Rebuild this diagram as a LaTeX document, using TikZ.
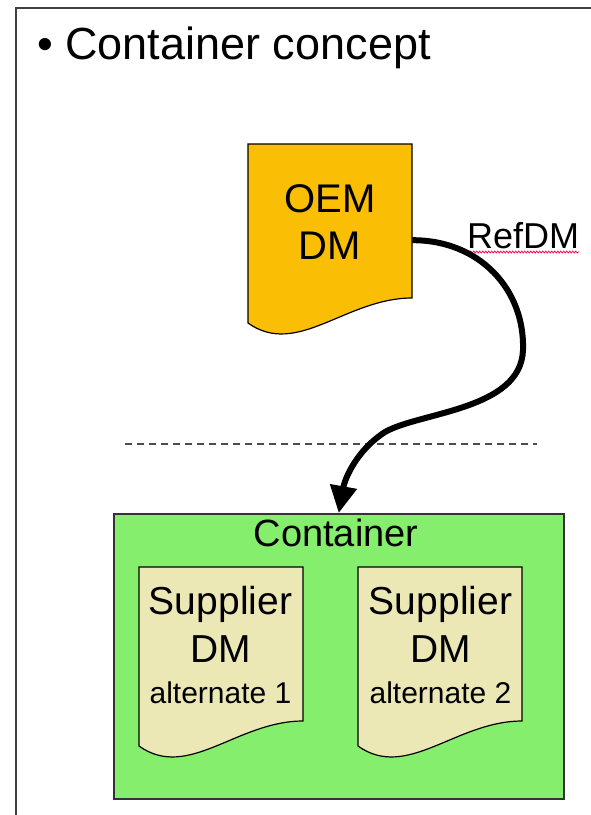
\documentclass[tikz,border=0pt]{standalone}
\usepackage{fontspec}
\setmainfont{Liberation Sans}
\usetikzlibrary{arrows.meta,decorations.pathmorphing}

\definecolor{oemorange}{RGB}{250,190,5}
\definecolor{boxgreen}{RGB}{133,238,108}
\definecolor{supbeige}{RGB}{236,232,182}

% page with a wavy lower edge: name, x, y, colour
\newcommand{\dmpage}[4]{%
  \node[inner sep=0, minimum width=164, minimum height=154, anchor=north west] (#1) at (#2,#3) {};
  \draw[line width=1.2, fill=#4] (#2,#3) -- (#2+164,#3) -- (#2+164,#3+154)
    .. controls (#2+98,#3+154) and (#2+49,#3+214) .. (#2,#3+179) -- cycle;
}

\begin{document}
\begin{tikzpicture}[x=1pt,y=-1pt]
	\useasboundingbox (0,0) rectangle (591,815);
	\draw[line width=2, black!75] (16,815) -- (16,8) -- (591,8);
	\node[anchor=base west, inner sep=0, font=\fontsize{45}{54}\selectfont] (title) at (37,59) {\textbullet\ Container concept};

	\dmpage{oem}{248}{144}{oemorange}
	\node[align=center, inner sep=0, font=\fontsize{40}{47}\selectfont] (oemtext) at (330,222) {OEM\\DM};
	\node[anchor=base west, inner sep=0, font=\fontsize{36}{43}\selectfont] (refdm) at (467,248) {RefDM};
	\draw[red!70!magenta, line width=0.7, decorate, decoration={zigzag, segment length=3pt, amplitude=1pt}] ([yshift=-4pt]refdm.base west) -- ([yshift=-4pt]refdm.base east);

	\draw[black!70, line width=1.5, dash pattern=on 7pt off 5pt] (125,444) -- (537,444);

	\node[anchor=north west, draw=black!80, line width=1.5, fill=boxgreen, minimum width=450, minimum height=285] (box) at (113,513) {};
	\node[anchor=base, inner sep=0, font=\fontsize{38}{45}\selectfont] (boxlabel) at (336,546) {Container};

	\dmpage{sup1}{139}{567}{supbeige}
	\dmpage{sup2}{358}{567}{supbeige}
	\node[align=center, inner sep=0, font=\fontsize{39}{48}\selectfont] (sup1text) at (220.5,624.5) {Supplier\\DM};
	\node[align=center, inner sep=0, font=\fontsize{39}{48}\selectfont] (sup2text) at (440.5,624.5) {Supplier\\DM};
	\node[anchor=base, inner sep=0, font=\fontsize{30}{36}\selectfont] (alt1) at (220.5,703) {alternate 1};
	\node[anchor=base, inner sep=0, font=\fontsize{30}{36}\selectfont] (alt2) at (440.5,703) {alternate 2};

	\draw[line width=6, -{Triangle[width=26pt,length=27pt]}] ([yshift=-19pt]oem.east) .. controls (480,240) and (525,290) .. (523,350) .. controls (521,410) and (420,412) .. (385,432) .. controls (357,450) and (345,478) .. (box.north);
\end{tikzpicture}
\end{document}
